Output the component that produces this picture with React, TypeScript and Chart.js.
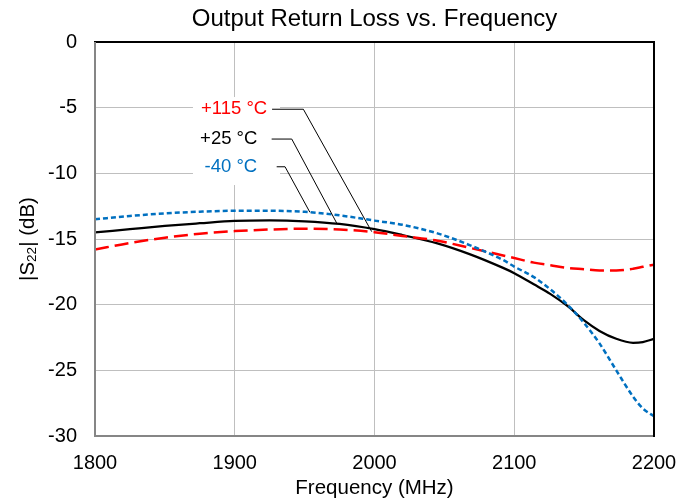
import { useEffect, useRef } from 'react';
import { Chart, registerables } from 'chart.js';

Chart.register(...registerables);

const FONT = '"Liberation Sans", Arial, Helvetica, sans-serif';

// Frequency points (MHz)
const FREQ = [1800, 1825, 1850, 1875, 1900, 1925, 1950, 1975, 2000, 2020, 2045, 2068, 2092, 2100, 2114, 2126, 2138, 2150, 2161, 2173, 2185, 2192, 2200];
// |S22| (dB) per temperature
const S22_P115 = [-15.8, -15.3, -14.9, -14.6, -14.4, -14.28, -14.22, -14.28, -14.48, -14.77, -15.13, -15.67, -16.25, -16.45, -16.8, -17.0, -17.2, -17.3, -17.4, -17.4, -17.27, -17.12, -16.95];
const S22_P25 = [-14.5, -14.25, -14.0, -13.8, -13.62, -13.58, -13.65, -13.85, -14.25, -14.7, -15.33, -16.15, -17.2, -17.6, -18.45, -19.2, -20.1, -21.2, -22.0, -22.6, -22.9, -22.85, -22.6];
const S22_M40 = [-13.5, -13.25, -13.05, -12.92, -12.85, -12.85, -12.93, -13.2, -13.6, -13.92, -14.57, -15.46, -16.6, -17.1, -17.9, -18.85, -20.0, -21.4, -22.95, -25.0, -27.0, -27.9, -28.5];

const SERIES_NAMES = ['+115 °C', '+25 °C', '-40 °C'];
const SERIES_COLORS = ['#ff0000', '#000000', '#0070c0'];

// Callout label centres (data units) and leader lines: start, elbow, end
const LABEL_POS = [[1899.5, -5.1], [1895.7, -7.39], [1897.2, -9.54]];
const LEADERS = [
  [[1926.7, -5.12], [1949.1, -5.12], [1998.0, -14.44]],
  [[1926.4, -7.39], [1940.8, -7.39], [1972.9, -13.78]],
  [[1930.0, -9.5], [1936.0, -9.5], [1953.8, -12.97]],
];
const LABEL_BOX = [[1870.1, -4.19], [1932.4, -10.89]];

const TITLE = 'Output Return Loss vs. Frequency';
const X_TITLE = 'Frequency (MHz)';

const overlay = {
  id: 'overlay',
  afterDatasetsDraw(chart: any) {
    const { ctx, chartArea: a, scales } = chart;
    const x = scales.x, y = scales.y;
    ctx.save();
    // white label box
    const bx0 = x.getPixelForValue(LABEL_BOX[0][0]);
    const by0 = y.getPixelForValue(LABEL_BOX[0][1]);
    const bx1 = x.getPixelForValue(LABEL_BOX[1][0]);
    const by1 = y.getPixelForValue(LABEL_BOX[1][1]);
    ctx.fillStyle = '#ffffff';
    ctx.fillRect(bx0, by0, bx1 - bx0, by1 - by0);
    // labels
    ctx.font = `18.5px ${FONT}`;
    ctx.textAlign = 'center';
    ctx.textBaseline = 'middle';
    SERIES_NAMES.forEach((n, i) => {
      ctx.fillStyle = SERIES_COLORS[i];
      ctx.fillText(n, x.getPixelForValue(LABEL_POS[i][0]), y.getPixelForValue(LABEL_POS[i][1]));
    });
    // leader lines
    ctx.strokeStyle = '#000000';
    ctx.lineWidth = 1;
    LEADERS.forEach((pts) => {
      ctx.beginPath();
      pts.forEach((p, j) => {
        const px = x.getPixelForValue(p[0]);
        const py = y.getPixelForValue(p[1]);
        if (j === 0) ctx.moveTo(px, py); else ctx.lineTo(px, py);
      });
      ctx.stroke();
    });
    // plot border
    ctx.lineWidth = 2;
    ctx.strokeStyle = '#000000';
    ctx.beginPath();
    ctx.moveTo(a.left - 1, a.top);
    ctx.lineTo(a.right, a.top);
    ctx.lineTo(a.right, a.bottom + 1);
    ctx.stroke();
    ctx.strokeStyle = '#868686';
    ctx.beginPath();
    ctx.moveTo(a.left, a.top);
    ctx.lineTo(a.left, a.bottom);
    ctx.lineTo(a.right - 1, a.bottom);
    ctx.stroke();
    ctx.restore();
  },
  afterDraw(chart: any) {
    const { ctx, chartArea: a } = chart;
    ctx.save();
    ctx.fillStyle = '#000';
    ctx.textAlign = 'center';
    ctx.textBaseline = 'middle';
    const cx = (a.left + a.right) / 2;
    ctx.font = `24px ${FONT}`;
    ctx.fillText(TITLE, cx, 19);
    ctx.font = `20.5px ${FONT}`;
    ctx.fillText(X_TITLE, cx, 488);
    // y title with subscript
    const parts = [
      { t: '|S', size: 20.5, dy: 0 },
      { t: '22', size: 13.5, dy: 4 },
      { t: '| (dB)', size: 20.5, dy: 0 },
    ];
    let total = 0;
    parts.forEach((p) => { ctx.font = `${p.size}px ${FONT}`; total += ctx.measureText(p.t).width; });
    ctx.translate(28, (a.top + a.bottom) / 2);
    ctx.rotate(-Math.PI / 2);
    ctx.textAlign = 'left';
    let px = -total / 2;
    parts.forEach((p) => {
      ctx.font = `${p.size}px ${FONT}`;
      ctx.fillText(p.t, px, p.dy);
      px += ctx.measureText(p.t).width;
    });
    ctx.restore();
  },
};

export default function App() {
  const ref = useRef<HTMLCanvasElement>(null);
  useEffect(() => {
    const mk = (vals: number[]) => FREQ.map((f, i) => ({ x: f, y: vals[i] }));
    const chart = new Chart(ref.current as HTMLCanvasElement, {
      type: 'line',
      data: {
        datasets: [
          { label: SERIES_NAMES[2], data: mk(S22_M40), borderColor: SERIES_COLORS[2], borderWidth: 2.5, borderDash: [5, 3], pointRadius: 0, cubicInterpolationMode: 'monotone', fill: false },
          { label: SERIES_NAMES[0], data: mk(S22_P115), borderColor: SERIES_COLORS[0], borderWidth: 2.5, borderDash: [14, 6], pointRadius: 0, cubicInterpolationMode: 'monotone', fill: false },
          { label: SERIES_NAMES[1], data: mk(S22_P25), borderColor: SERIES_COLORS[1], borderWidth: 2.25, pointRadius: 0, cubicInterpolationMode: 'monotone', fill: false },
        ],
      },
      options: {
        responsive: false,
        animation: false,
        layout: { padding: { top: 42, right: 38, left: 0, bottom: 0 } },
        plugins: { legend: { display: false }, tooltip: { enabled: false }, title: { display: false } },
        scales: {
          x: {
            type: 'linear',
            min: 1800,
            max: 2200,
            ticks: { stepSize: 100, padding: 15, color: '#000', font: { family: FONT, size: 20 }, maxRotation: 0, autoSkip: false, callback: (v: any) => String(v) },
            grid: { color: '#bfbfbf', lineWidth: 1, drawTicks: false },
            border: { display: false },
            afterFit: (s: any) => { s.height = 64; },
          },
          y: {
            type: 'linear',
            min: -30,
            max: 0,
            ticks: { stepSize: 5, padding: 18, color: '#000', font: { family: FONT, size: 20 }, callback: (v: any) => String(v) },
            grid: { color: '#bfbfbf', lineWidth: 1, drawTicks: false },
            border: { display: false },
            afterFit: (s: any) => { s.width = 95; },
          },
        },
      } as any,
      plugins: [overlay],
    });
    return () => chart.destroy();
  }, []);
  return (
    <div style={{ position: 'fixed', left: 0, top: 0, width: 692, height: 500, background: '#fff' }}>
      <canvas ref={ref} width={692} height={500} style={{ width: 692, height: 500 }} />
    </div>
  );
}
